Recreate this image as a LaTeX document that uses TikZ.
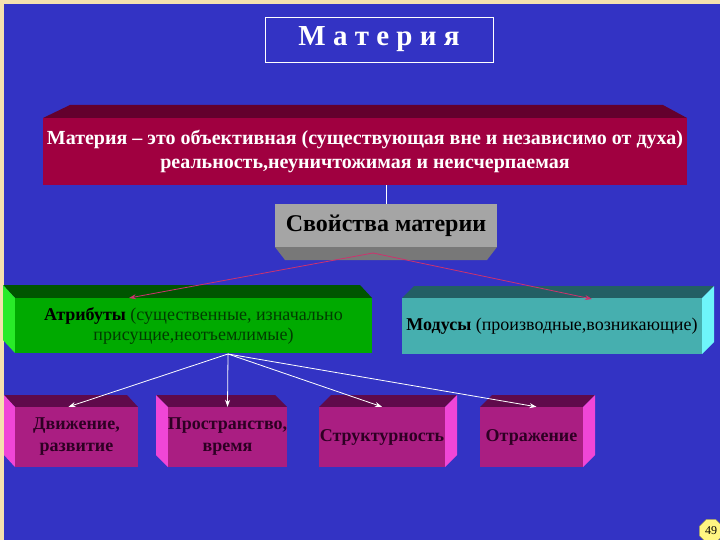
\documentclass[tikz,border=0pt]{standalone}
\usepackage{fontspec}
\setmainfont{Liberation Serif}
\usetikzlibrary{arrows.meta, shapes.geometric, positioning, calc}

\definecolor{slideblue}{RGB}{51,51,196}
\definecolor{framebeige}{RGB}{245,225,175}
\definecolor{redfront}{RGB}{160,0,64}
\definecolor{redtop}{RGB}{100,0,45}
\definecolor{grayfront}{RGB}{165,165,165}
\definecolor{graybot}{RGB}{120,120,120}
\definecolor{greenfront}{RGB}{0,170,0}
\definecolor{greentop}{RGB}{0,85,0}
\definecolor{greenside}{RGB}{40,235,40}
\definecolor{tealfront}{RGB}{70,175,175}
\definecolor{tealtop}{RGB}{35,95,100}
\definecolor{tealside}{RGB}{110,245,250}
\definecolor{pinkfront}{RGB}{170,30,130}
\definecolor{pinktop}{RGB}{95,10,75}
\definecolor{pinkside}{RGB}{240,70,215}
\definecolor{linkred}{RGB}{205,50,110}
\definecolor{pinktext}{RGB}{45,0,35}
\definecolor{greentext}{RGB}{0,60,0}
\definecolor{numyellow}{RGB}{255,245,130}

\tikzset{
  face/.style={rectangle, inner sep=0pt, align=center},
  propbox/.style={face, fill=pinkfront, minimum height=60, text=pinktext,
                  font=\fontsize{18}{22}\selectfont\bfseries},
  redlink/.style={draw=linkred, line width=0.8pt,
                  -{Stealth[length=7pt, width=5pt]}},
  whitelink/.style={draw=white, line width=0.8pt,
                    -{Stealth[length=7pt, width=5pt]}}
}

\begin{document}
\begin{tikzpicture}[x=1pt, y=-1pt]
    \fill[framebeige](0,0) rectangle (720,540);
    \fill[slideblue](4,4) rectangle (720,540);
    \useasboundingbox (0,0) rectangle (720,540);

    \node[face, draw=white, line width=0.8pt, minimum width=228, minimum height=45,
          text=white, font=\fontsize{29}{34}\selectfont\bfseries](title) at (379,39.5)
         {М а т е р и я};

    \fill[redtop](43,118)--(70,105)--(663,105)--(687,118)--cycle;
    \node[face, fill=redfront, minimum width=644, minimum height=67,
          text=white, font=\fontsize{20}{24}\selectfont\bfseries](matter) at (365,151.5)
         {Материя – это объективная (существующая вне и независимо от духа)\\
          реальность,неуничтожимая и неисчерпаемая};

    \fill[graybot](275,247)--(285,260)--(487,260)--(497,247)--cycle;
    \node[face, fill=grayfront, minimum width=222, minimum height=43,
          font=\fontsize{24}{28}\selectfont\bfseries](props) at (386,225.5)
         {Свойства материи};
    \draw[white, line width=0.8pt](props.north)--(props.north |- matter.south);

    \fill[greentop](15,298)--(3,285)--(360,285)--(372,298)--cycle;
    \fill[greenside](15,298)--(3,285)--(3,340)--(15,353)--cycle;
    \node[face, fill=greenfront, minimum width=357, minimum height=55,
          text=greentext, font=\fontsize{18}{20}\selectfont](attr) at (193.5,325.5)
         {\textcolor{black}{\bfseries Атрибуты} (существенные, изначально\\
          присущие,неотъемлимые)};

    \fill[tealtop](402,298)--(414,286)--(714,286)--(702,298)--cycle;
    \fill[tealside](702,298)--(714,286)--(714,342)--(702,354)--cycle;
    \node[face, fill=tealfront, minimum width=300, minimum height=56,
          font=\fontsize{18}{20}\selectfont](modus) at (552,326)
         {\textbf{Модусы} (производные,возникающие)};

    \coordinate (split) at (373,253);
    \coordinate (attrin) at (129,298);
    \coordinate (modin) at (592,299);
    \draw[redlink](split)--(attrin);
    \draw[redlink](split)--(modin);

    \fill[pinktop](15,407)--(4,395)--(127,395)--(138,407)--cycle;
    \fill[pinkside](15,407)--(4,395)--(4,455)--(15,467)--cycle;
    \node[propbox, minimum width=123](move) at (76.5,437)
         {Движение,\\развитие};

    \fill[pinktop](168,407)--(156,395)--(275,395)--(287,407)--cycle;
    \fill[pinkside](168,407)--(156,395)--(156,455)--(168,467)--cycle;
    \node[propbox, minimum width=119](space) at (227.5,437)
         {Пространство,\\время};

    \fill[pinktop](319,407)--(331,395)--(457,395)--(445,407)--cycle;
    \fill[pinkside](445,407)--(457,395)--(457,455)--(445,467)--cycle;
    \node[propbox, minimum width=126](struct) at (382,437)
         {Структурность};

    \fill[pinktop](480,407)--(492,395)--(595,395)--(583,407)--cycle;
    \fill[pinkside](583,407)--(595,395)--(595,455)--(583,467)--cycle;
    \node[propbox, minimum width=103](refl) at (531.5,437)
         {Отражение};

    \coordinate (fan) at (228,354);
    \draw[whitelink](fan)--($(move.north)+(-8,0)$);
    \draw[whitelink](fan)--(space.north);
    \draw[whitelink](fan)--(struct.north);
    \draw[whitelink](fan)--($(refl.north)+(5,0)$);

    \node[regular polygon, regular polygon sides=8, fill=numyellow,
          draw=numyellow!50!black, line width=0.4pt, minimum size=25, inner sep=0pt,
          font=\fontsize{12}{13}\selectfont](page) at (711,531) {49};
\end{tikzpicture}
\end{document}
